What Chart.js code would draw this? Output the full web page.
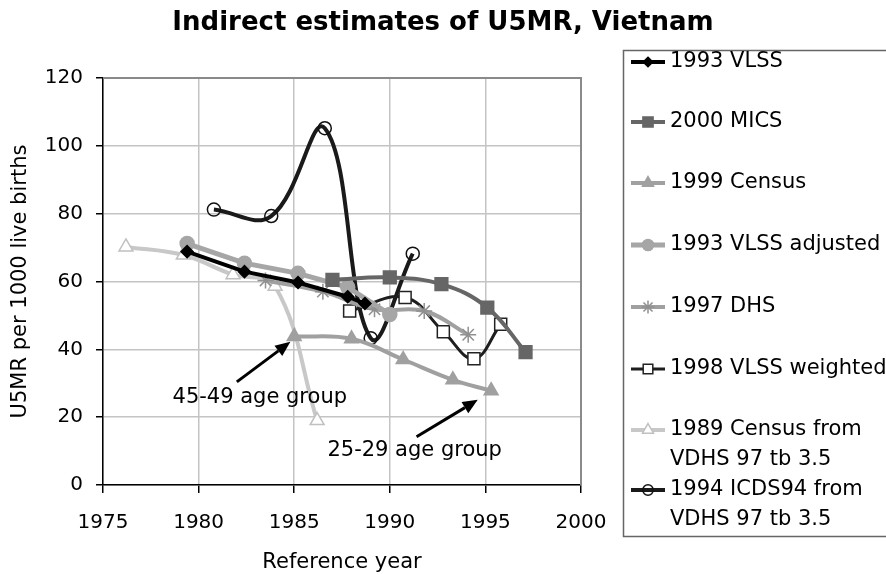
<!DOCTYPE html>
<html>
<head>
<meta charset="utf-8">
<script src="https://cdn.jsdelivr.net/npm/chart.js@4/dist/chart.umd.min.js"></script>
<style>
  html, body { margin: 0; padding: 0; background: #fff; }
  #box { width: 886px; height: 575px; }
</style>
</head>
<body>
<div id="box"><canvas id="grafico"></canvas></div>
<script>
// Datos (año de referencia, U5MR)
const seriesLabels = ['1993 VLSS', '2000 MICS', '1999 Census', '1993 VLSS adjusted', '1997 DHS',
  '1998 VLSS weighted', ['1989 Census from', 'VDHS 97 tb 3.5'], ['1994 ICDS94 from', 'VDHS 97 tb 3.5']];

const vlssYears = [1979.4, 1982.4, 1985.2, 1987.8, 1988.7];
const vlssRates = [68.8, 62.9, 59.7, 55.5, 53.5];
const micsYears = [1987.0, 1990.0, 1992.7, 1995.1, 1997.1];
const micsRates = [60.5, 61.2, 59.2, 52.3, 39.2];
const census99Years = [1985.0, 1988.0, 1990.7, 1993.3, 1995.3];
const census99Rates = [43.8, 43.1, 37.0, 31.0, 27.8];
const vlssAdjYears = [1979.4, 1982.4, 1985.2, 1987.8, 1990.0];
const vlssAdjRates = [71.2, 65.4, 62.4, 58.3, 50.3];
const dhsYears = [1983.5, 1986.5, 1989.2, 1991.8, 1994.1];
const dhsRates = [60.3, 57.0, 51.8, 51.3, 44.3];
const vlssWtYears = [1987.9, 1990.8, 1992.8, 1994.4, 1995.8];
const vlssWtRates = [51.3, 55.3, 45.2, 37.2, 47.4];
const census89Years = [1976.2, 1979.2, 1981.8, 1984.0, 1986.2];
const census89Rates = [70.2, 67.8, 62.0, 58.6, 19.0];
const icdsYears = [1980.8, 1983.8, 1986.6, 1989.0, 1991.2];
const icdsRates = [81.2, 79.3, 105.2, 43.3, 68.2];

const yearTicks = [1975, 1980, 1985, 1990, 1995, 2000];
const rateTicks = [0, 20, 40, 60, 80, 100, 120];

// Notas con flecha: texto, posición del texto, cola y punta de la flecha (en años / U5MR)
const notes = [
  { text: '45-49 age group', at: [1983.2, 25.7], from: [1982.0, 30.4], to: [1984.8, 42.2] },
  { text: '25-29 age group', at: [1991.3, 10.3], from: [1991.4, 14.2], to: [1994.6, 25.1] },
];

const pares = (xs, ys) => xs.map((x, i) => ({ x, y: ys[i] }));

const FONT = "'DejaVu Sans', sans-serif";
Chart.defaults.font.family = FONT;
Chart.defaults.color = '#000';

const serie = (label, data, color, width, style, radius, fill, stroke, tension) => ({
  label, data, showLine: true,
  borderColor: color, borderWidth: width, tension,
  pointStyle: style, pointRadius: radius, pointHoverRadius: radius,
  pointBackgroundColor: fill, pointBorderColor: stroke, pointBorderWidth: 1.5,
});

const datasets = [
  serie(seriesLabels[0], pares(vlssYears, vlssRates), '#000000', 4, 'rectRot', 6, '#000', '#000', 0),
  serie(seriesLabels[1], pares(micsYears, micsRates), '#666666', 4, 'rect', 9, '#666', '#666', 0.4),
  serie(seriesLabels[2], pares(census99Years, census99Rates), '#a0a0a0', 4, 'triangle', 8, '#a0a0a0', '#a0a0a0', 0.4),
  serie(seriesLabels[3], pares(vlssAdjYears, vlssAdjRates), '#a6a6a6', 5, 'circle', 7, '#a6a6a6', '#a6a6a6', 0),
  serie(seriesLabels[4], pares(dhsYears, dhsRates), '#a0a0a0', 4, 'star', 8, '#909090', '#909090', 0.4),
  serie(seriesLabels[5], pares(vlssWtYears, vlssWtRates), '#1e1e1e', 3, 'rect', 8.5, '#fff', '#222', 0.4),
  serie(seriesLabels[6], pares(census89Years, census89Rates), '#c8c8c8', 4, 'triangle', 8, '#fff', '#c0c0c0', 0.4),
  serie(seriesLabels[7], pares(icdsYears, icdsRates), '#1a1a1a', 4, 'circle', 6.5, 'rgba(0,0,0,0)', '#111', 0.4),
];

// Plugin: título, borde del área, notas y leyenda con recuadro
const extras = {
  id: 'extras',
  beforeDatasetsDraw(chart) {
    const { ctx, chartArea: a } = chart;
    ctx.save();
    ctx.strokeStyle = '#8a8a8a';
    ctx.lineWidth = 2;
    ctx.beginPath();
    ctx.moveTo(a.left, a.top);
    ctx.lineTo(a.right, a.top);
    ctx.lineTo(a.right, a.bottom);
    ctx.stroke();
    ctx.restore();
  },
  afterDatasetsDraw(chart) {
    const { ctx, scales: { x, y } } = chart;
    ctx.save();
    ctx.font = `21px ${FONT}`;
    ctx.fillStyle = '#000';
    ctx.strokeStyle = '#000';
    ctx.textAlign = 'center';
    ctx.textBaseline = 'middle';
    notes.forEach(n => {
      ctx.fillText(n.text, x.getPixelForValue(n.at[0]), y.getPixelForValue(n.at[1]));
      const x0 = x.getPixelForValue(n.from[0]), y0 = y.getPixelForValue(n.from[1]);
      const x1 = x.getPixelForValue(n.to[0]), y1 = y.getPixelForValue(n.to[1]);
      const ang = Math.atan2(y1 - y0, x1 - x0);
      const len = 15, half = 6.5;
      const bx = x1 - len * Math.cos(ang), by = y1 - len * Math.sin(ang);
      ctx.lineWidth = 3;
      ctx.beginPath();
      ctx.moveTo(x0, y0);
      ctx.lineTo(bx, by);
      ctx.stroke();
      ctx.beginPath();
      ctx.moveTo(x1, y1);
      ctx.lineTo(bx + half * Math.sin(ang), by - half * Math.cos(ang));
      ctx.lineTo(bx - half * Math.sin(ang), by + half * Math.cos(ang));
      ctx.closePath();
      ctx.fill();
    });
    ctx.restore();
  },
  afterDraw(chart) {
    const { ctx } = chart;
    ctx.save();
    // título
    ctx.font = `bold 26px ${FONT}`;
    ctx.fillStyle = '#000';
    ctx.textAlign = 'center';
    ctx.textBaseline = 'middle';
    ctx.fillText('Indirect estimates of U5MR, Vietnam', 443, 23);

    // leyenda
    ctx.strokeStyle = '#666';
    ctx.lineWidth = 1.5;
    ctx.strokeRect(623.5, 50.5, 280, 486);
    const filas = [62, 122, 183, 245, 307, 369, 430, 490];
    ctx.font = `21px ${FONT}`;
    ctx.textAlign = 'left';
    chart.data.datasets.forEach((ds, i) => {
      const yy = filas[i];
      ctx.strokeStyle = ds.borderColor;
      ctx.lineWidth = ds.borderWidth;
      ctx.beginPath();
      ctx.moveTo(631, yy);
      ctx.lineTo(665, yy);
      ctx.stroke();
      ctx.fillStyle = ds.pointBackgroundColor;
      ctx.strokeStyle = ds.pointBorderColor;
      ctx.lineWidth = 1.5;
      Chart.helpers.drawPoint(ctx, { pointStyle: ds.pointStyle, radius: ds.pointRadius * 0.8, rotation: 0, borderWidth: 1.5 }, 648, yy);
      ctx.fillStyle = '#000';
      const lineas = Array.isArray(ds.label) ? ds.label : [ds.label];
      lineas.forEach((t, k) => ctx.fillText(t, 670, yy + k * 30));
    });
    ctx.restore();
  }
};

const config = {
  type: 'scatter',
  data: { datasets },
  options: {
    responsive: true,
    maintainAspectRatio: false,
    animation: false,
    events: [],
    layout: { padding: { top: 78, right: 305, left: 0, bottom: 0 } },
    plugins: { legend: { display: false }, tooltip: { enabled: false }, title: { display: false } },
    scales: {
      x: {
        type: 'linear', min: 1975, max: 2000,
        afterBuildTicks: s => { s.ticks = yearTicks.map(v => ({ value: v })); },
        afterFit: s => { s.height = 90; },
        ticks: { font: { size: 20 }, padding: 18, maxRotation: 0, callback: v => String(v) },
        grid: { color: '#c4c4c4', lineWidth: 1.5, tickColor: '#000', tickLength: 8, tickWidth: 1.5 },
        border: { color: '#000', width: 1.5 },
        title: { display: true, text: 'Reference year', font: { size: 21 }, padding: { top: 0, bottom: 0 } },
      },
      y: {
        type: 'linear', min: 0, max: 120,
        afterBuildTicks: s => { s.ticks = rateTicks.map(v => ({ value: v })); },
        afterFit: s => { s.width = 103; },
        ticks: { font: { size: 20 }, padding: 13 },
        grid: { color: '#c4c4c4', lineWidth: 1.5, tickColor: '#000', tickLength: 7, tickWidth: 1.5 },
        border: { color: '#000', width: 1.5 },
        title: { display: true, text: 'U5MR per 1000 live births', font: { size: 21 }, padding: { top: 8, bottom: 0 } },
      },
    },
  },
  plugins: [extras],
};

new Chart(document.getElementById('grafico').getContext('2d'), config);
</script>
</body>
</html>
